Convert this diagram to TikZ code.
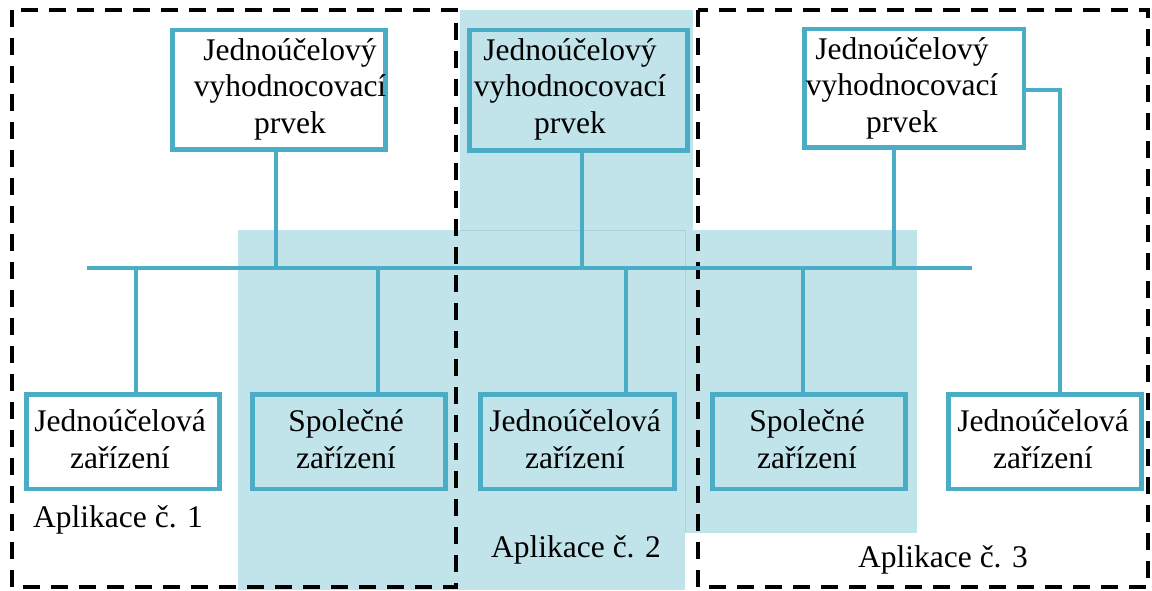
\documentclass[tikz,border=0pt]{standalone}
\usepackage{fontspec}
\setmainfont{Liberation Serif}
\definecolor{line}{RGB}{75,172,198}
\definecolor{zonefill}{RGB}{193,227,234}
\definecolor{zoneedge}{RGB}{165,212,224}

\begin{document}
\begin{tikzpicture}[x=1pt,y=-1pt,
  box/.style={draw=line, line width=4.5pt, minimum width=193pt, minimum height=94.5pt, inner sep=0pt},
  topbox/.style={box, minimum height=119.5pt},
  txt/.style={font=\fontsize{31.5}{36.5}\selectfont, align=center, inner sep=0pt},
  link/.style={draw=line, line width=4pt},
  app/.style={draw=black, line width=4pt, dash pattern=on 17pt off 11pt}]

\useasboundingbox (0,0) rectangle (1152,590);

% shared zones
\fill[zonefill] (460,10) rectangle (693,230);
\fill[zonefill] (238,230) rectangle (685,590);
\fill[zonefill] (685,230) rectangle (917,533);
\draw[zoneedge, line width=0.8pt] (460,230) -- (685,230) -- (685,533);

% application frames
\draw[app] (12,10) rectangle (456,587);
\draw[app] (698,10) rectangle (1148,587);

% evaluation elements
\node[topbox, minimum width=213pt] (T1) at (279,89.75) {};
\node[topbox, minimum width=218pt, minimum height=120.5pt] (T2) at (578.5,90.25) {};
\node[topbox, minimum width=219.5pt, minimum height=118.5pt] (T3) at (914.25,88.25) {};
\node[txt] (T1t) at (290,89) {Jednoúčelový\\vyhodnocovací\\prvek};
\node[txt] (T2t) at (570,89) {Jednoúčelový\\vyhodnocovací\\prvek};
\node[txt] (T3t) at (902,88) {Jednoúčelový\\vyhodnocovací\\prvek};

% devices
\node[box] (B1) at (123,441.75) {};
\node[box] (B2) at (349,441.75) {};
\node[box, minimum width=194pt] (B3) at (577.5,441.75) {};
\node[box] (B4) at (809,441.75) {};
\node[box] (B5) at (1045,441.75) {};
\node[txt] (B1t) at (120,439) {Jednoúčelová\\zařízení};
\node[txt] (B2t) at (346,439) {Společné\\zařízení};
\node[txt] (B3t) at (575,439) {Jednoúčelová\\zařízení};
\node[txt] (B4t) at (807,439) {Společné\\zařízení};
\node[txt] (B5t) at (1043,439) {Jednoúčelová\\zařízení};

% bus
\coordinate (busL) at (87,268);
\coordinate (busR) at (972,268);
\draw[link] (busL) -- (busR);

\draw[link] ([xshift=-3pt]T1.south) -- ([xshift=-3pt]T1.south |- busL);
\draw[link] ([xshift=3.5pt]T2.south) -- ([xshift=3.5pt]T2.south |- busL);
\draw[link] ([xshift=-20pt]T3.south) -- ([xshift=-20pt]T3.south |- busL);

\draw[link] ([xshift=13pt]B1.north) -- ([xshift=13pt]B1.north |- busL);
\draw[link] ([xshift=29pt]B2.north) -- ([xshift=29pt]B2.north |- busL);
\draw[link] ([xshift=48.5pt]B3.north) -- ([xshift=48.5pt]B3.north |- busL);
\draw[link] ([xshift=-6pt]B4.north) -- ([xshift=-6pt]B4.north |- busL);
\draw[link] ([yshift=-1.75pt]T3.east) -| ([xshift=15pt]B5.north);

% application labels
\node[txt, anchor=base west] (A1) at (33,527) {Aplikace č. 1};
\node[txt, anchor=base] (A2) at (576,557) {Aplikace č. 2};
\node[txt, anchor=base] (A3) at (943,567) {Aplikace č. 3};
\end{tikzpicture}
\end{document}
